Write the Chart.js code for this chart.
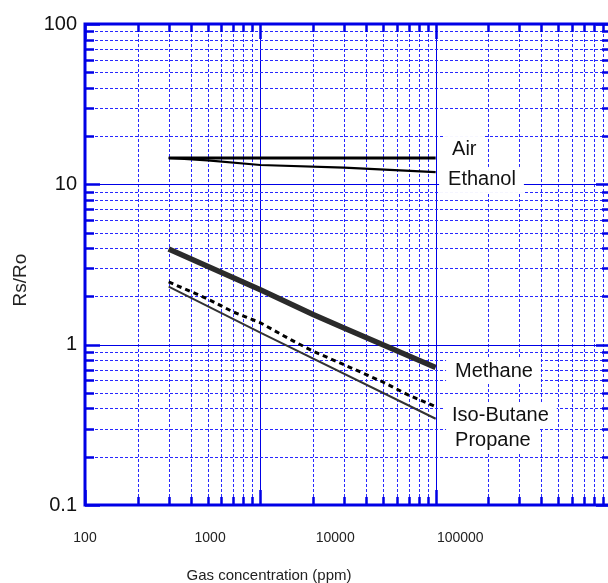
<!DOCTYPE html>
<html>
<head>
<meta charset="utf-8">
<script src="https://cdn.jsdelivr.net/npm/chart.js@4.4.1/dist/chart.umd.min.js"></script>
<style>
  html, body { margin: 0; padding: 0; background: #fff; overflow: hidden; }
  #wrap { width: 620px; height: 583px; position: relative; }
</style>
</head>
<body>
<div id="wrap"><canvas id="chart"></canvas></div>
<script>
// values (Rs/Ro vs gas concentration, ppm)
const airPpm = [300, 10000]
const airRatio = [14.6, 14.6]
const ethanolPpm = [300, 500, 1000, 3000, 10000]
const ethanolRatio = [14.6, 14.1, 13.2, 12.7, 11.9]
const methanePpm = [300, 1000, 2000, 3000, 5000, 10000]
const methaneRatio = [3.95, 2.2, 1.54, 1.27, 1.0, 0.72]
const isoButanePpm = [300, 400, 500, 700, 1000, 1500, 2000, 3000, 5000, 7000, 10000]
const isoButaneRatio = [2.46, 2.15, 1.93, 1.6, 1.37, 1.07, 0.91, 0.75, 0.585, 0.485, 0.41]
const propanePpm = [300, 1000, 10000]
const propaneRatio = [2.3, 1.19, 0.345]

const xTickLabels = [100, 1000, 10000, 100000]
const yTickLabels = [0.1, 1, 10, 100]

const BLUE = 'rgb(0, 0, 230)'
const MINOR_BLUE = 'rgb(40, 40, 255)'
const FONT = "'Liberation Sans', Arial, sans-serif"

function logGrid(from, to) {
  let vals = []
  for (let d = from; d < to * 0.999; d *= 10) {
    for (let k = 1; k < 10; k++) vals.push(Number((d * k).toPrecision(6)))
  }
  vals.push(to)
  return vals
}
function isDecade(v) {
  let l = Math.log10(v)
  return Math.abs(l - Math.round(l)) < 1e-6
}
function pairs(xs, ys) {
  return xs.map((x, i) => ({x: x, y: ys[i]}))
}

// blue log grid: solid at decades, dashed in between
const blueGrid = {
  id: 'blueGrid',
  beforeDatasetsDraw(chart) {
    const {ctx, chartArea: a, scales} = chart
    ctx.save()
    ctx.lineWidth = 1
    const line = (x1, y1, x2, y2, major) => {
      ctx.strokeStyle = major ? BLUE : MINOR_BLUE
      ctx.setLineDash(major ? [] : [3, 2])
      ctx.beginPath()
      ctx.moveTo(x1, y1)
      ctx.lineTo(x2, y2)
      ctx.stroke()
    }
    scales.x.ticks.forEach(t => {
      let p = Math.round(scales.x.getPixelForValue(t.value)) + 0.5
      line(p, a.top, p, a.bottom, isDecade(t.value))
    })
    scales.y.ticks.forEach(t => {
      let p = Math.round(scales.y.getPixelForValue(t.value)) + 0.5
      line(a.left, p, a.right, p, isDecade(t.value))
    })
    ctx.restore()
  }
}

const frameAndLabels = {
  id: 'frameAndLabels',
  afterDatasetsDraw(chart, args, opts) {
    const {ctx, chartArea: a, scales} = chart
    ctx.save()
    // curve labels on white boxes
    ctx.font = '20px ' + FONT
    ctx.textBaseline = 'middle'
    ctx.textAlign = 'left'
    opts.items.forEach(it => {
      let px = scales.x.getPixelForValue(it.x)
      let py = scales.y.getPixelForValue(it.y)
      let w = ctx.measureText(it.text).width
      ctx.fillStyle = '#fff'
      ctx.fillRect(px - 9, py - 13, w + 17, 26)
    })
    ctx.fillStyle = '#111'
    opts.items.forEach(it => {
      ctx.fillText(it.text, scales.x.getPixelForValue(it.x), scales.y.getPixelForValue(it.y))
    })

    // frame
    ctx.strokeStyle = BLUE
    ctx.lineWidth = 3
    ctx.strokeRect(a.left, a.top, a.right - a.left, a.bottom - a.top)

    // inward tick marks
    ctx.lineWidth = 2.5
    ctx.beginPath()
    scales.x.ticks.forEach(t => {
      let p = Math.round(scales.x.getPixelForValue(t.value)) + 0.5
      let len = isDecade(t.value) ? 15 : 8
      ctx.moveTo(p, a.top); ctx.lineTo(p, a.top + len)
      ctx.moveTo(p, a.bottom); ctx.lineTo(p, a.bottom - len)
    })
    scales.y.ticks.forEach(t => {
      let p = Math.round(scales.y.getPixelForValue(t.value)) + 0.5
      let len = isDecade(t.value) ? 15 : 9
      ctx.moveTo(a.left, p); ctx.lineTo(a.left + len, p)
      ctx.moveTo(a.right, p); ctx.lineTo(a.right - len, p)
    })
    ctx.stroke()

    // axis titles
    ctx.fillStyle = '#222'
    ctx.textAlign = 'center'
    ctx.font = '15px ' + FONT
    ctx.fillText(opts.xTitle, 269, 576)
    ctx.translate(21, 280)
    ctx.rotate(-Math.PI / 2)
    ctx.font = '19px ' + FONT
    ctx.fillText(opts.yTitle, 0, 0)
    ctx.restore()
  }
}

new Chart(document.getElementById('chart'), {
  type: 'line',
  data: {
    datasets: [
      {label: 'Air', data: pairs(airPpm, airRatio), borderColor: '#000', borderWidth: 3},
      {label: 'Ethanol', data: pairs(ethanolPpm, ethanolRatio), borderColor: '#000', borderWidth: 2.2},
      {label: 'Methane', data: pairs(methanePpm, methaneRatio), borderColor: '#2b2b2b', borderWidth: 5.5},
      {label: 'Iso-Butane', data: pairs(isoButanePpm, isoButaneRatio), borderColor: '#000', borderWidth: 3, borderDash: [5, 4]},
      {label: 'Propane', data: pairs(propanePpm, propaneRatio), borderColor: '#333', borderWidth: 2},
    ]
  },
  options: {
    responsive: true,
    maintainAspectRatio: false,
    animation: false,
    events: [],
    layout: {padding: {left: 0, top: 24, right: 9, bottom: 0}},
    elements: {point: {radius: 0}, line: {tension: 0}},
    plugins: {
      legend: {display: false},
      tooltip: {enabled: false},
      frameAndLabels: {
        xTitle: 'Gas concentration (ppm)',
        yTitle: 'Rs/Ro',
        items: [
          {text: 'Air', x: 12400, y: 16.6},
          {text: 'Ethanol', x: 11770, y: 10.65},
          {text: 'Methane', x: 12900, y: 0.685},
          {text: 'Iso-Butane', x: 12400, y: 0.364},
          {text: 'Propane', x: 12900, y: 0.254},
        ]
      }
    },
    scales: {
      x: {
        type: 'logarithmic',
        position: 'bottom',
        min: 100,
        max: 100000,
        afterBuildTicks: s => { s.ticks = logGrid(100, 100000).map(v => ({value: v})) },
        ticks: {display: false},
        grid: {display: false, drawTicks: false},
        border: {display: false},
        afterFit: s => { s.height = 0 }
      },
      xl: {
        type: 'logarithmic',
        position: 'bottom',
        min: 100,
        max: 1.602e6,
        afterBuildTicks: s => { s.ticks = xTickLabels.map(v => ({value: v})) },
        ticks: {
          autoSkip: false,
          maxRotation: 0,
          padding: 25,
          color: '#222',
          font: {family: FONT, size: 14},
          callback: v => String(v)
        },
        grid: {display: false, drawTicks: false},
        border: {display: false},
        afterFit: s => { s.height = 78 }
      },
      y: {
        type: 'logarithmic',
        position: 'left',
        min: 0.1,
        max: 100,
        afterBuildTicks: s => { s.ticks = logGrid(0.1, 100).map(v => ({value: v})) },
        ticks: {
          autoSkip: false,
          padding: 8,
          color: '#111',
          font: {family: FONT, size: 20},
          callback: v => yTickLabels.includes(v) ? String(v) : ''
        },
        grid: {display: false, drawTicks: false},
        border: {display: false},
        afterFit: s => { s.width = 85 }
      }
    }
  },
  plugins: [blueGrid, frameAndLabels]
})
</script>
</body>
</html>
